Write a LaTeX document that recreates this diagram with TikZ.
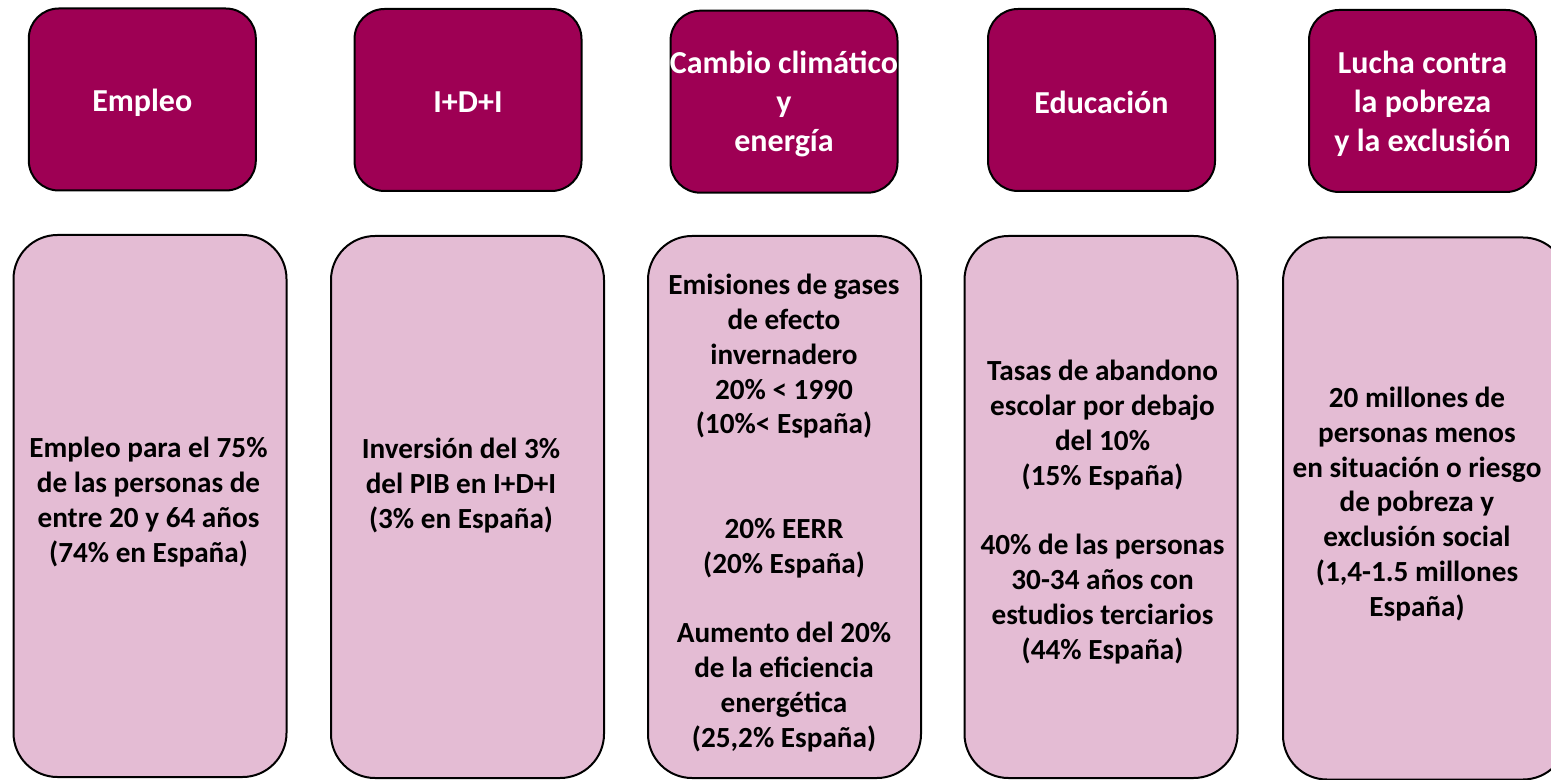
\documentclass[tikz,border=0pt]{standalone}
\usepackage{fontspec}
\setmainfont{Carlito}
\definecolor{morado}{RGB}{158,0,84}
\definecolor{rosa}{RGB}{228,188,212}
\tikzset{
	cabecera/.style={draw=black, line width=1pt, fill=morado, rounded corners=15pt, minimum width=113.5pt, minimum height=91pt, inner sep=0pt},
	objetivo/.style={draw=black, line width=1pt, fill=rosa, rounded corners=22pt, minimum width=136.5pt, minimum height=271pt, inner sep=0pt},
	textocab/.style={text=white, align=center, inner sep=0pt, font=\fontsize{16}{19.4}\selectfont\bfseries},
	textoobj/.style={text=black, align=center, inner sep=0pt, font=\fontsize{14.6}{17.4}\selectfont\bfseries}
}

\begin{document}
\begin{tikzpicture}[x=0.5pt, y=-0.5pt]
			%%%%% START %%%%%
			\useasboundingbox (0, 0) rectangle (1551, 780);
			
			\node[cabecera] (empleo) at (142.3, 99.5) {};
			\node[cabecera] (idi) at (468, 100) {};
			\node[cabecera] (clima) at (784, 101.7) {};
			\node[cabecera] (educacion) at (1101.5, 100) {};
			\node[cabecera] (pobreza) at (1422.5, 101) {};
			
			\node[textocab] (templeo) at (142.3, 103) {Empleo};
			\node[textocab] (tidi) at (468, 102) {I+D+I};
			\node[textocab] (tclima) at (784, 104) {Cambio climático\\y\\energía};
			\node[textocab] (teducacion) at (1101.5, 102) {Educación};
			\node[textocab] (tpobreza) at (1422.5, 104) {Lucha contra\\la pobreza\\y la exclusión};
			
			\node[objetivo] (objempleo) at (150, 506) {};
			\node[objetivo] (objidi) at (467.5, 507) {};
			\node[objetivo] (objclima) at (784.5, 507) {};
			\node[objetivo] (objeducacion) at (1101, 507) {};
			\node[objetivo, minimum width=142pt] (objpobreza) at (1425, 508.5) {};
			
			\node[textoobj] (tobjempleo) at (148.5, 502) {Empleo para el 75\%\\de las personas de\\entre 20 y 64 años\\(74\% en España)};
			\node[textoobj] (tobjidi) at (461, 485.5) {Inversión del 3\%\\del PIB en I+D+I\\(3\% en España)};
			\node[textoobj] (tobjclima) at (784, 513) {Emisiones de gases\\de efecto\\invernadero\\20\% < 1990\\(10\%< España)\\[34.8pt]20\% EERR\\(20\% España)\\[17.4pt]Aumento del 20\%\\de la eficiencia\\energética\\(25,2\% España)};
			\node[textoobj] (tobjeducacion) at (1102.5, 512) {Tasas de abandono\\escolar por debajo\\del 10\%\\(15\% España)\\[17.4pt]40\% de las personas\\30-34 años con\\estudios terciarios\\(44\% España)};
			\node[textoobj] (tobjpobreza) at (1417, 504) {20 millones de\\personas menos\\en situación o riesgo\\de pobreza y\\exclusión social\\(1,4-1.5 millones\\España)};
			
			%%%%% END %%%%%
\end{tikzpicture}
\end{document}
